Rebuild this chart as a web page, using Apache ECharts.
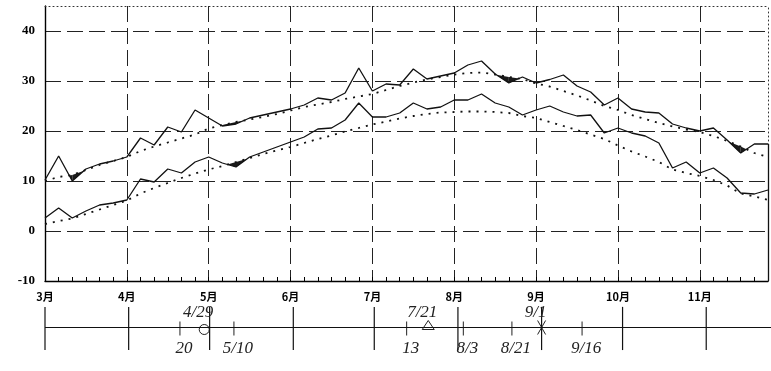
<!DOCTYPE html>
<html lang="ja">
<head>
    <meta charset="UTF-8">
    <title>気温の推移</title>
    <script src="https://cdn.jsdelivr.net/npm/echarts@6/dist/echarts.min.js"></script>
</head>
<body style="margin:0;background:#fff;">
    <div id="main" style="width:771px;height:371px;"></div>
    <script>
// 半旬ごとの値（3月1半旬〜11月末）
var months = ['3月', '4月', '5月', '6月', '7月', '8月', '9月', '10月', '11月'];

// 最高気温
var tmax = [
    10.2, 15, 10, 12.4, 13.4, 14,
    14.8, 18.6, 17.2, 20.8, 19.8, 24.2,
    22.6, 21, 21.4, 22.6, 23.2, 23.8,
    24.4, 25.2, 26.6, 26.2, 27.6, 32.6,
    28, 29.4, 29.2, 32.4, 30.4, 31,
    31.6, 33.2, 34, 31.4, 29.6, 30.8,
    29.6, 30.3, 31.2, 29, 27.8, 25.2,
    26.6, 24.4, 23.8, 23.6, 21.4, 20.6,
    20, 20.6, 18.2, 15.6, 17.4, 17.4
];
// 最高気温 平年
var tmaxNorm = [
    10.0, 10.8, 11.2, 12.2, 13.2, 14.0,
    14.8, 16.0, 16.9, 17.7, 18.5, 19.3,
    20.5, 21.2, 21.8, 22.3, 22.8, 23.4,
    24.1, 24.8, 25.3, 25.8, 26.4, 26.9,
    27.4, 28.2, 29.0, 29.7, 30.3, 30.8,
    31.3, 31.6, 31.7, 31.3, 30.8, 30.4,
    29.5, 28.9, 28.0, 27.1, 26.1, 25.0,
    24.2, 23.2, 22.4, 21.6, 20.9, 20.3,
    19.8, 19.0, 18.0, 16.9, 15.6, 14.8
];
// 最低気温
var tmin = [
    2.6, 4.6, 2.6, 4, 5.2, 5.6,
    6.2, 10.4, 9.8, 12.4, 11.6, 13.8,
    14.8, 13.6, 12.8, 14.8, 15.8, 16.8,
    17.8, 18.8, 20.4, 20.6, 22.2, 25.6,
    22.8, 22.8, 23.6, 25.6, 24.4, 24.8,
    26.2, 26.2, 27.4, 25.6, 24.8, 23.2,
    24.2, 25, 23.8, 23, 23.2, 19.6,
    20.6, 19.6, 19, 17.6, 12.6, 13.8,
    11.6, 12.6, 10.6, 7.6, 7.4, 8.2
];
// 最低気温 平年
var tminNorm = [
    1.4, 2.0, 2.5, 3.4, 4.3, 5.2,
    6.1, 7.5, 8.6, 9.6, 10.6, 11.5,
    12.3, 13.0, 13.8, 14.6, 15.4, 16.1,
    16.8, 17.6, 18.4, 19.1, 19.9, 20.6,
    21.3, 21.9, 22.5, 23.0, 23.4, 23.7,
    23.8, 23.9, 23.9, 23.8, 23.6, 23.0,
    22.6, 21.8, 21.0, 20.2, 19.3, 18.4,
    17.1, 15.9, 14.9, 13.8, 12.3, 11.6,
    11.0, 10.2, 9.1, 7.5, 6.9, 6.2
];

var yMin = -10, yMax = 45, yStep = 10;

// 下の時間軸（3月1日からの日数）
var monthDays = [0, 31, 61, 92, 122, 153, 184, 214, 245];
var timelineEnd = 269;
var noteDays = [50, 59, 70, 134, 142, 155, 173, 184, 199];
var noteTexts = ['20', '4/29', '5/10', '13', '7/21', '8/3', '8/21', '9/1', '9/16'];
var noteMarks = ['tick', 'circle', 'tick', 'tick', 'triangle', 'tick', 'tick', 'cross', 'tick'];

var pentads = [];
months.forEach(function (m) {
    for (var p = 1; p <= 6; p++) pentads.push(m + p + '半旬');
});
pentads = pentads.slice(0, tmax.length);
var last = tmax.length - 1;

function pairs(arr) {
    return arr.map(function (v, i) { return [i, v]; });
}

// 実況が平年を下回った部分を塗る
function fillBelow(act, norm) {
    return function (params, api) {
        var i = params.dataIndex;
        if (i >= act.length - 1) return;
        var d0 = norm[i] - act[i], d1 = norm[i + 1] - act[i + 1];
        if (d0 <= 0 && d1 <= 0) return;
        var a0 = api.coord([i, act[i]]), a1 = api.coord([i + 1, act[i + 1]]);
        var n0 = api.coord([i, norm[i]]), n1 = api.coord([i + 1, norm[i + 1]]);
        var pts;
        if (d0 > 0 && d1 > 0) {
            pts = [a0, a1, n1, n0];
        } else {
            var t = d0 / (d0 - d1);
            var c = [a0[0] + (a1[0] - a0[0]) * t, a0[1] + (a1[1] - a0[1]) * t];
            pts = d0 > 0 ? [a0, c, n0] : [c, a1, n1];
        }
        return { type: 'polygon', shape: { points: pts }, style: { fill: '#1a1a1a' } };
    };
}

var noteAbove = [false, true, false, false, true, false, false, true, false];
var noteFont = { fontFamily: 'Liberation Serif', fontStyle: 'italic', fontSize: 17, fill: '#222' };

function renderNote(params, api) {
    var i = params.dataIndex;
    var p = api.coord([noteDays[i], 0]);
    var kids = [];
    var ink = { stroke: '#222', lineWidth: 1, fill: 'none' };
    var m = noteMarks[i];
    if (m === 'tick') {
        kids.push({ type: 'line', shape: { x1: p[0], y1: p[1] - 6, x2: p[0], y2: p[1] + 8 }, style: ink });
    } else if (m === 'circle') {
        kids.push({ type: 'circle', shape: { cx: p[0], cy: p[1] + 2, r: 5 }, style: ink });
    } else if (m === 'triangle') {
        kids.push({ type: 'polygon', shape: { points: [[p[0], p[1] - 7], [p[0] - 6, p[1] + 2], [p[0] + 6, p[1] + 2]] }, style: ink });
    } else if (m === 'cross') {
        kids.push({ type: 'line', shape: { x1: p[0] - 4, y1: p[1] - 7, x2: p[0] + 4, y2: p[1] + 7 }, style: ink });
        kids.push({ type: 'line', shape: { x1: p[0] + 4, y1: p[1] - 7, x2: p[0] - 4, y2: p[1] + 7 }, style: ink });
    }
    var up = noteAbove[i];
    kids.push({
        type: 'text',
        style: Object.assign({
            text: noteTexts[i],
            x: p[0] + (up ? -6 : 4),
            y: p[1] + (up ? -15 : 21),
            align: 'center',
            verticalAlign: 'middle'
        }, noteFont)
    });
    return { type: 'group', children: kids };
}

function renderMonthMark(params, api) {
    var top = api.coord([api.value(0), 0.75]);
    var bot = api.coord([api.value(0), -0.82]);
    return {
        type: 'line',
        shape: { x1: top[0], y1: top[1], x2: bot[0], y2: bot[1] },
        style: { stroke: '#111', lineWidth: 1.2 }
    };
}

var myChart = echarts.init(document.getElementById('main'));

var dashed = { color: '#222', width: 1, type: [16, 6] };
var solidLine = { color: '#111', width: 1.3 };
var dotLine = { color: '#111', width: 1.8, type: [2, 6] };

var option = {
    backgroundColor: '#fff',
    animation: false,
    grid: [
        { left: 45, right: 3, top: 6, bottom: 90 },
        { left: 45, right: 0, top: 300, height: 55 }
    ],
    xAxis: [
        {
            type: 'category', gridIndex: 0, data: pentads, boundaryGap: false,
            axisLine: { onZero: false, lineStyle: { color: '#000', width: 1.4 } },
            axisTick: { inside: true, length: 4, interval: 0, lineStyle: { color: '#000' } },
            axisLabel: {
                interval: 0, margin: 10, color: '#000', fontSize: 11, fontWeight: 'bold',
                fontFamily: 'Noto Sans CJK JP',
                formatter: function (v, i) { return i % 6 === 0 ? months[i / 6] : ''; }
            },
            splitLine: {
                show: true, lineStyle: dashed,
                interval: function (i) { return i % 6 === 0 && i > 0; }
            }
        },
        {
            type: 'category', gridIndex: 0, position: 'top', data: pentads, boundaryGap: false,
            axisLine: { onZero: false, lineStyle: { color: '#333', width: 1, type: [1, 3] } },
            axisTick: { show: false }, axisLabel: { show: false }, splitLine: { show: false }
        },
        {
            type: 'value', gridIndex: 1, min: 0, max: timelineEnd, show: false
        }
    ],
    yAxis: [
        {
            type: 'value', gridIndex: 0, min: yMin, max: yMax, interval: yStep,
            axisLine: { show: true, onZero: false, lineStyle: { color: '#000', width: 1.4 } },
            axisTick: { show: false },
            axisLabel: {
                color: '#000', fontSize: 13, fontWeight: 'bold', fontFamily: 'Liberation Serif',
                margin: 10, showMaxLabel: false
            },
            splitLine: { show: true, showMinLine: false, showMaxLine: false, lineStyle: dashed }
        },
        {
            type: 'value', gridIndex: 0, position: 'right', min: yMin, max: yMax,
            axisLine: { show: true, onZero: false, lineStyle: { color: '#333', width: 1, type: [1, 3] } },
            axisTick: { show: false }, axisLabel: { show: false }, splitLine: { show: false }
        },
        {
            type: 'value', gridIndex: 1, min: -1, max: 1, show: false
        }
    ],
    series: [
        {
            name: '最高気温平年', type: 'line', data: tmaxNorm, symbol: 'none',
            lineStyle: dotLine, z: 3
        },
        {
            name: '最低気温平年', type: 'line', data: tminNorm, symbol: 'none',
            lineStyle: dotLine, z: 3
        },
        {
            name: '最高気温', type: 'line', data: tmax, symbol: 'none',
            lineStyle: solidLine, z: 4,
            markLine: {
                silent: true, symbol: 'none', label: { show: false },
                lineStyle: { color: '#111', width: 1.3, type: 'solid' },
                data: [[{ coord: [last, tmax[last]] }, { coord: [last, yMin] }]]
            }
        },
        {
            name: '最低気温', type: 'line', data: tmin, symbol: 'none',
            lineStyle: solidLine, z: 4
        },
        {
            type: 'custom', renderItem: fillBelow(tmax, tmaxNorm),
            data: pairs(tmax), encode: { x: 0, y: 1 }, z: 2
        },
        {
            type: 'custom', renderItem: fillBelow(tmin, tminNorm),
            data: pairs(tmin), encode: { x: 0, y: 1 }, z: 2
        },
        {
            type: 'line', xAxisIndex: 2, yAxisIndex: 2, symbol: 'none',
            data: [[0, 0], [timelineEnd, 0]],
            lineStyle: { color: '#111', width: 1.2 }
        },
        {
            type: 'custom', xAxisIndex: 2, yAxisIndex: 2, renderItem: renderMonthMark,
            data: monthDays.map(function (d) { return [d, 0]; }), encode: { x: 0, y: 1 }
        },
        {
            type: 'custom', xAxisIndex: 2, yAxisIndex: 2, renderItem: renderNote,
            data: noteDays.map(function (d) { return [d, 0]; }), encode: { x: 0, y: 1 }
        }
    ]
};
myChart.setOption(option);
    </script>
</body>
</html>
